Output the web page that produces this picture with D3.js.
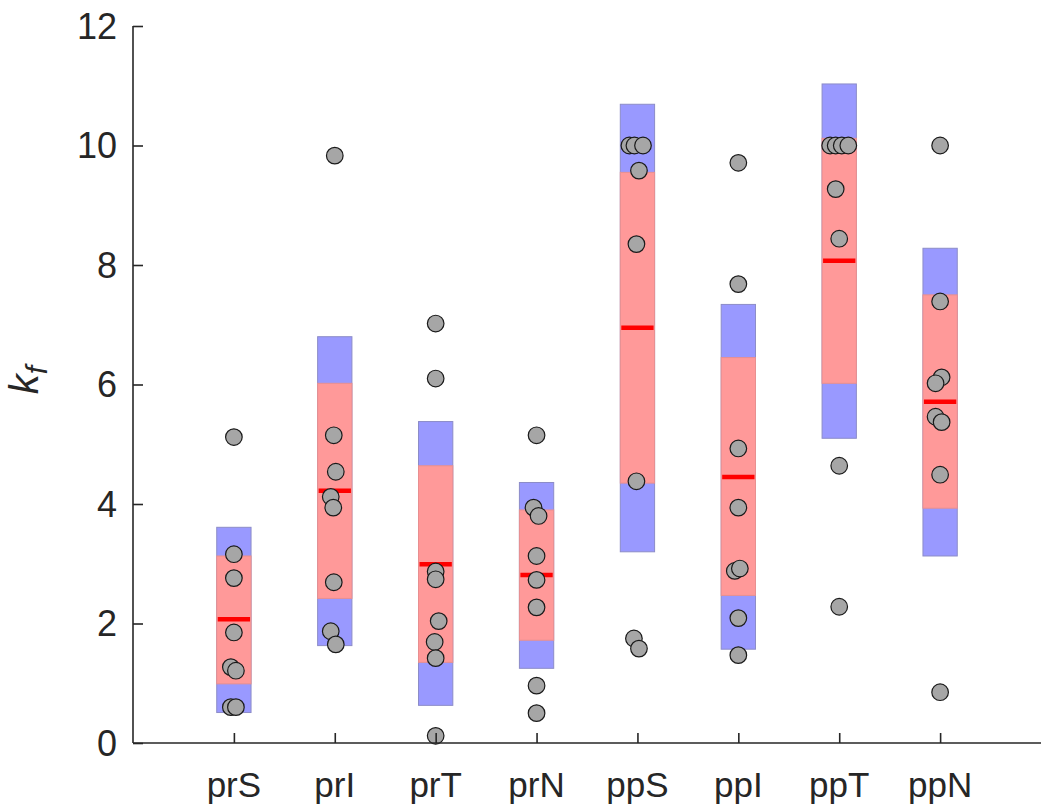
<!DOCTYPE html>
<html><head><meta charset="utf-8">
<script src="https://cdn.jsdelivr.net/npm/d3@7"></script>
<style>body{margin:0;background:#fff}svg{display:block}</style>
</head><body><svg id="c" width="1050" height="807"></svg>
<script>
const categories = ["prS","prI","prT","prN","ppS","ppI","ppT","ppN"];
const means   = [2.07, 4.22, 2.99, 2.81, 6.95, 4.45, 8.07, 5.71];
const sdLow   = [0.51, 1.63, 0.63, 1.25, 3.20, 1.57, 5.10, 3.13];
const sdHigh  = [3.61, 6.80, 5.38, 4.36, 10.69, 7.34, 11.03, 8.28];
const ciLow   = [0.99, 2.42, 1.35, 1.72, 4.35, 2.47, 6.02, 3.93];
const ciHigh  = [3.13, 6.02, 4.64, 3.90, 9.55, 6.45, 10.12, 7.50];
const pointValues = [
  [5.12, 3.16, 2.76, 1.85, 1.27, 1.21, 0.60, 0.60],
  [9.83, 5.15, 4.54, 4.12, 3.94, 2.69, 1.87, 1.65],
  [7.02, 6.10, 2.87, 2.74, 2.04, 1.69, 1.42, 0.12],
  [5.15, 3.94, 3.80, 3.13, 2.73, 2.27, 0.96, 0.50],
  [10.0, 10.0, 10.0, 9.58, 8.35, 4.38, 1.75, 1.58],
  [9.71, 7.68, 4.93, 3.94, 2.88, 2.92, 2.09, 1.47],
  [10.0, 10.0, 10.0, 10.0, 9.27, 8.44, 4.64, 2.28],
  [10.0, 7.39, 6.12, 6.02, 5.46, 5.37, 4.49, 0.85]
];
const pointJitter = [
  [0, 0, 0, 0, -0.03, 0.02, -0.03, 0.02],
  [0, -0.01, 0.01, -0.04, -0.015, -0.01, -0.04, 0.01],
  [0, 0, 0, 0, 0.03, -0.01, 0, 0],
  [0, -0.03, 0.02, 0, 0, 0, 0, 0],
  [-0.08, -0.03, 0.055, 0.015, -0.01, -0.01, -0.035, 0.015],
  [0, 0, 0, 0, -0.035, 0.015, 0, 0],
  [-0.09, -0.035, 0.025, 0.09, -0.035, 0, 0, 0],
  [0, 0, 0.015, -0.045, -0.045, 0.015, 0, 0]
];
const yTicks = [0, 2, 4, 6, 8, 10, 12];

const svg = d3.select("#c");
const x = d3.scaleLinear().domain([0, 9]).range([133, 1041]);
const y = d3.scaleLinear().domain([0, 12]).range([743, 26]);
const halfW = 0.17;
const axisColor = "#262626";
const font = "'Liberation Sans', Arial, sans-serif";

const g = svg.append("g");
categories.forEach((c, i) => {
  const cx = i + 1;
  g.append("rect")
    .attr("x", x(cx - halfW)).attr("width", x(cx + halfW) - x(cx - halfW))
    .attr("y", y(sdHigh[i])).attr("height", y(sdLow[i]) - y(sdHigh[i]))
    .attr("fill", "#9999ff").attr("stroke", "#8c8cc8").attr("stroke-width", 1);
  g.append("rect")
    .attr("x", x(cx - halfW)).attr("width", x(cx + halfW) - x(cx - halfW))
    .attr("y", y(ciHigh[i])).attr("height", y(ciLow[i]) - y(ciHigh[i]))
    .attr("fill", "#ff9999").attr("stroke", "#e89090").attr("stroke-width", 1);
  g.append("line")
    .attr("x1", x(cx - halfW) + 1).attr("x2", x(cx + halfW) - 1)
    .attr("y1", y(means[i])).attr("y2", y(means[i]))
    .attr("stroke", "#ff0000").attr("stroke-width", 4.5);
});
categories.forEach((c, i) => {
  const cx = i + 1;
  g.selectAll(null).data(pointValues[i]).enter().append("circle")
    .attr("cx", (d, j) => x(cx + pointJitter[i][j]))
    .attr("cy", d => y(d))
    .attr("r", 8.3)
    .attr("fill", "#a6a6a6").attr("stroke", "#1a1a1a").attr("stroke-width", 1.2);
});

// Y axis
const yAxis = svg.append("g").attr("transform", `translate(${x(0)},0)`)
  .call(d3.axisRight(y).tickValues(yTicks).tickSize(10).tickFormat(""));
yAxis.select(".domain").attr("d", `M0,${y(12)}H0V${y(0)}`);
yAxis.selectAll("path,line").attr("stroke", axisColor).attr("stroke-width", 1.6);
svg.append("g").selectAll("text").data(yTicks).enter().append("text")
  .attr("x", 117).attr("y", d => y(d)).attr("dy", "0.36em")
  .attr("text-anchor", "end").attr("font-family", font).attr("font-size", 36)
  .attr("fill", axisColor).text(d => d);

// X axis
const xAxis = svg.append("g").attr("transform", `translate(0,${y(0)})`)
  .call(d3.axisTop(x).tickValues(d3.range(1, 9)).tickSize(10).tickFormat(""));
xAxis.select(".domain").attr("d", `M${x(0)},0H${x(9)}`);
xAxis.selectAll("path,line").attr("stroke", axisColor).attr("stroke-width", 1.6);
svg.append("g").selectAll("text").data(categories).enter().append("text")
  .attr("x", (d, i) => x(i + 1)).attr("y", 797)
  .attr("text-anchor", "middle").attr("font-family", font).attr("font-size", 35)
  .attr("fill", axisColor).text(d => d);

// Y label
const yl = svg.append("text").attr("transform", "translate(38,380) rotate(-90)")
  .attr("text-anchor", "middle").attr("font-family", font).attr("font-style", "italic")
  .attr("fill", axisColor);
yl.append("tspan").attr("font-size", 40).text("k");
yl.append("tspan").attr("font-size", 30).attr("dy", 9).text("f");
</script></body></html>
